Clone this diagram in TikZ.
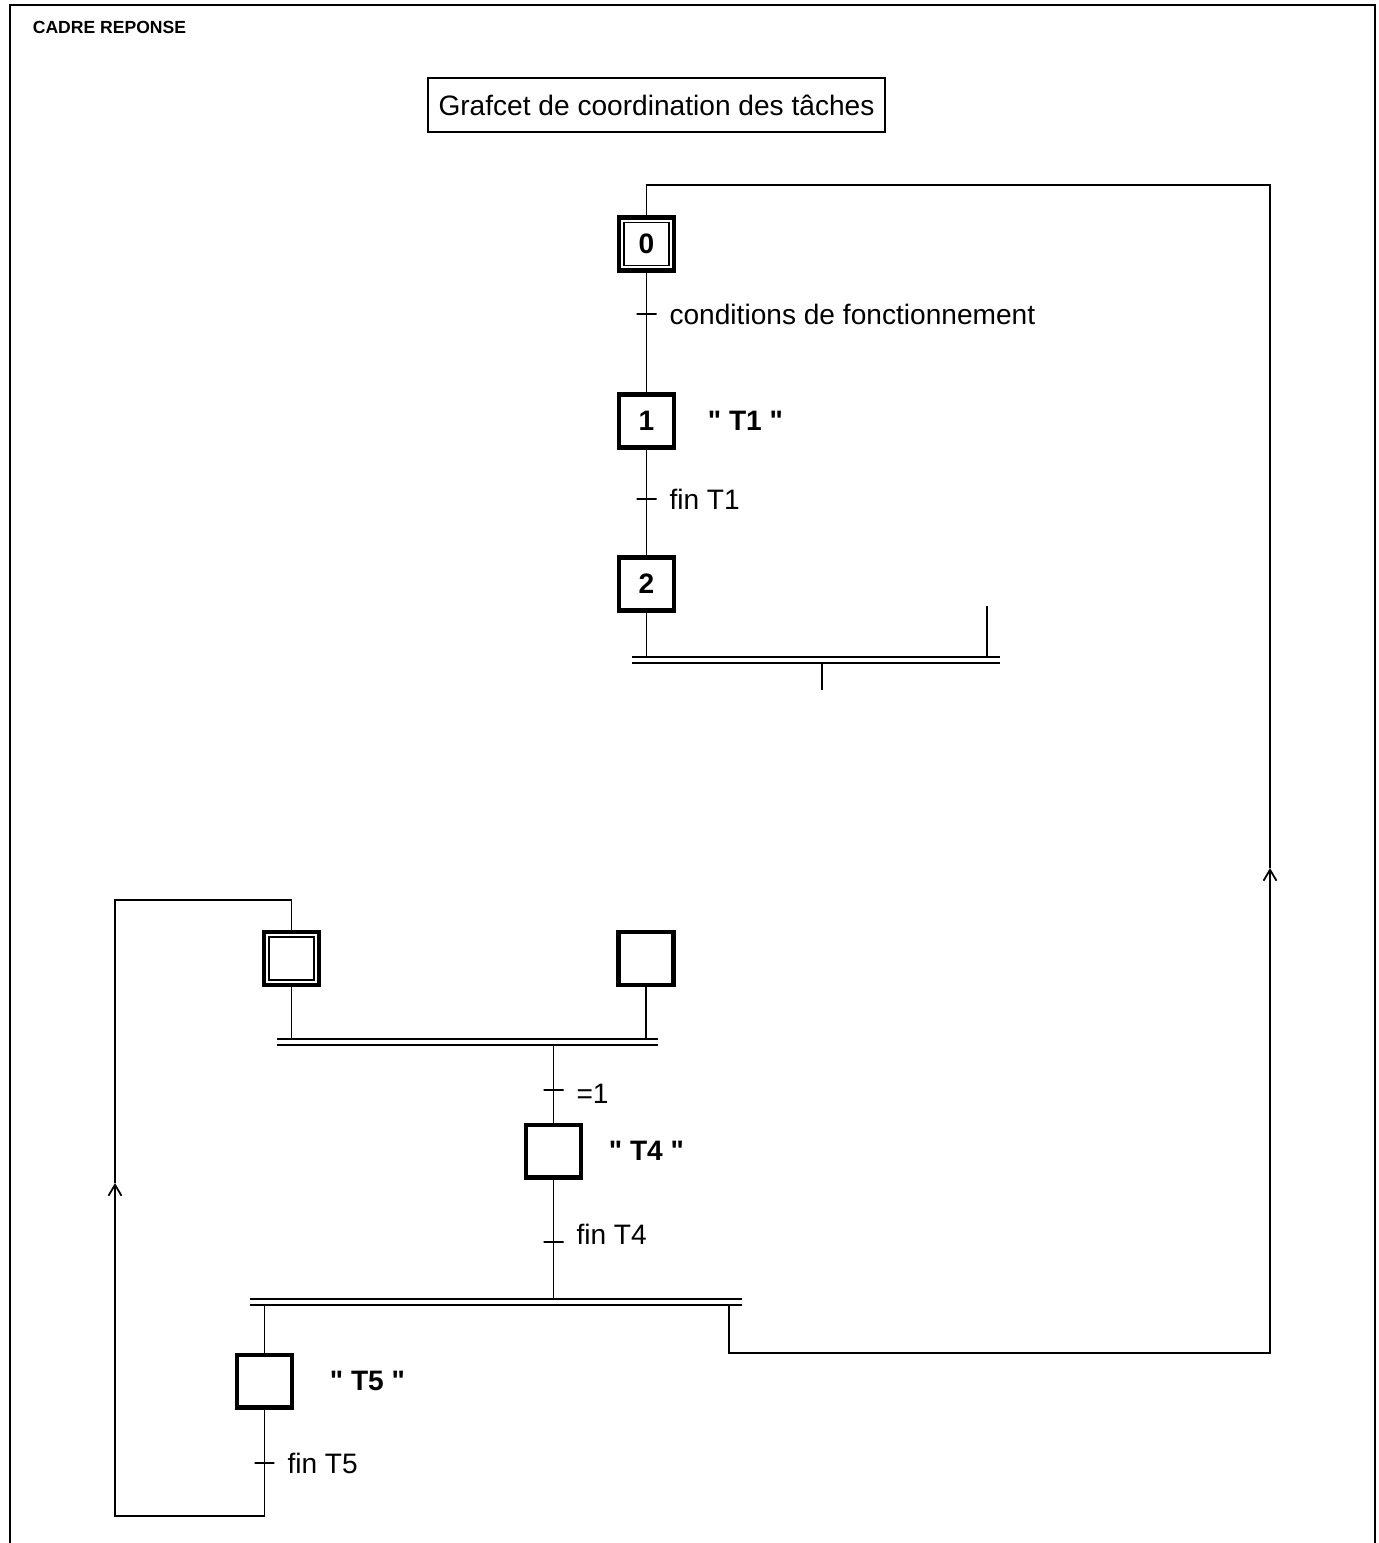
\documentclass[tikz,border=0pt]{standalone}
\usepackage{fontspec}
\setmainfont{Liberation Sans}[Ligatures=TeXOff]
\usetikzlibrary{positioning,arrows.meta}

\begin{document}
\begin{tikzpicture}[x=0.02cm, y=-0.02cm, line width=1pt, font=\fontsize{16}{19}\selectfont,
    >={Straight Barb[length=2.2mm,width=2.6mm]}]
    \tikzstyle{etape}=[rectangle, draw, line width=2.3pt, minimum width=1.1cm, minimum height=1.06cm, inner sep=0pt, font=\fontsize{16}{19}\selectfont\bfseries]
    \tikzstyle{transition}=[rectangle, draw, line width=1.3pt, minimum width=0.4cm, minimum height=0pt, inner sep=0pt]
    \tikzstyle{barre}=[rectangle, minimum height=0.12cm, inner sep=0pt, outer sep=0pt]
    \tikzstyle{recept}=[inner sep=0pt]
    \tikzstyle{action}=[inner sep=0pt, font=\fontsize{16}{19}\selectfont\bfseries]

    \useasboundingbox (0,0) rectangle (1379,1543);

    % Frame and title
    \draw[line width=1.1pt] (10,1543) -- (10,5) -- (1375,5) -- (1375,1543);
    \node[recept, anchor=west, font=\fontsize{10}{12}\selectfont\bfseries] (cadre) at (32,27) {CADRE REPONSE};
    \node[draw, line width=1.1pt, minimum width=9.14cm, minimum height=1.08cm] (titre) at (656.5,105) {Grafcet de coordination des tâches};

    % Upper grafcet: steps 0, 1, 2
    \node[etape] (S0) at (646.5,244) {0};
    \node[etape] (S1) at (646.5,421) {1};
    \node[etape] (S2) at (646.5,584) {2};
    \node[transition] (t01) at (646.5,314) {};
    \node[transition] (t12) at (646.5,499) {};
    \node[barre, minimum width=7.36cm] (B1) at (816,660) {};

    \node[recept, right=0.22cm of t01] {conditions de fonctionnement};
    \node[recept, right=0.22cm of t12] {fin T1};
    \node[action, right=0.62cm of S1] {" T1 "};

    % Lower grafcet
    \node[etape] (S3) at (291.5,958.5) {};
    \node[etape] (S4) at (646,958.5) {};
    \node[etape] (S5) at (553.5,1151) {};
    \node[etape] (S6) at (264.5,1381) {};
    \node[barre, minimum width=7.62cm] (B2) at (467.5,1042) {};
    \node[barre, minimum width=9.84cm] (B3) at (496,1302) {};
    \node[transition] (t3) at (553.5,1090) {};
    \node[transition] (t4) at (553.5,1242) {};
    \node[transition] (t5) at (264.5,1463) {};

    \node[recept, right=0.22cm of t3, yshift=-0.08cm] {=1};
    \node[recept, right=0.22cm of t4, yshift=0.16cm] {fin T4};
    \node[recept, right=0.22cm of t5] {fin T5};
    \node[action, right=0.5cm of S5] {" T4 "};
    \node[action, right=0.7cm of S6] {" T5 "};

    % Inner frames of the initial steps
    \foreach \n in {S0,S3}
        \draw ([shift={(7,-7)}]\n.south west) rectangle ([shift={(-7,7)}]\n.north east);

    % Double bars
    \foreach \b in {B1,B2,B3}
        \draw[line width=1.2pt] (\b.north west) -- (\b.north east) (\b.south west) -- (\b.south east);

    % Corners of the links
    \coordinate (f1) at (987,606);
    \coordinate (f2) at (822,690);
    \coordinate (d1) at (729,1353);
    \coordinate (d2) at (1270,1353);
    \coordinate (d3) at (1270,868);
    \coordinate (d4) at (1270,185);
    \coordinate (e1) at (115,1516);
    \coordinate (e2) at (115,1183);
    \coordinate (e3) at (115,900);

    % Links of the upper grafcet
    \draw (S0) -- (t01) -- (S1) -- (t12) -- (S2) -- (S2 |- B1.north);
    \draw (f1) -- (f1 |- B1.north);
    \draw (f2 |- B1.south) -- (f2);

    % Links of the lower grafcet
    \draw (S3) -- (S3 |- B2.north);
    \draw (S4) -- (S4 |- B2.north);
    \draw (S5 |- B2.south) -- (t3) -- (S5) -- (t4) -- (S5 |- B3.north);
    \draw (S6 |- B3.south) -- (S6);

    % Return to step 0
    \draw[->] (d1 |- B3.south) -- (d1) -- (d2) -- (d3);
    \draw (d3) -- (d4) -| (S0);

    % Return to the initial step of the lower grafcet
    \draw[->] (S6) -- (t5) |- (e1) -- (e2);
    \draw (e2) -- (e3) -| (S3);
\end{tikzpicture}
\end{document}
